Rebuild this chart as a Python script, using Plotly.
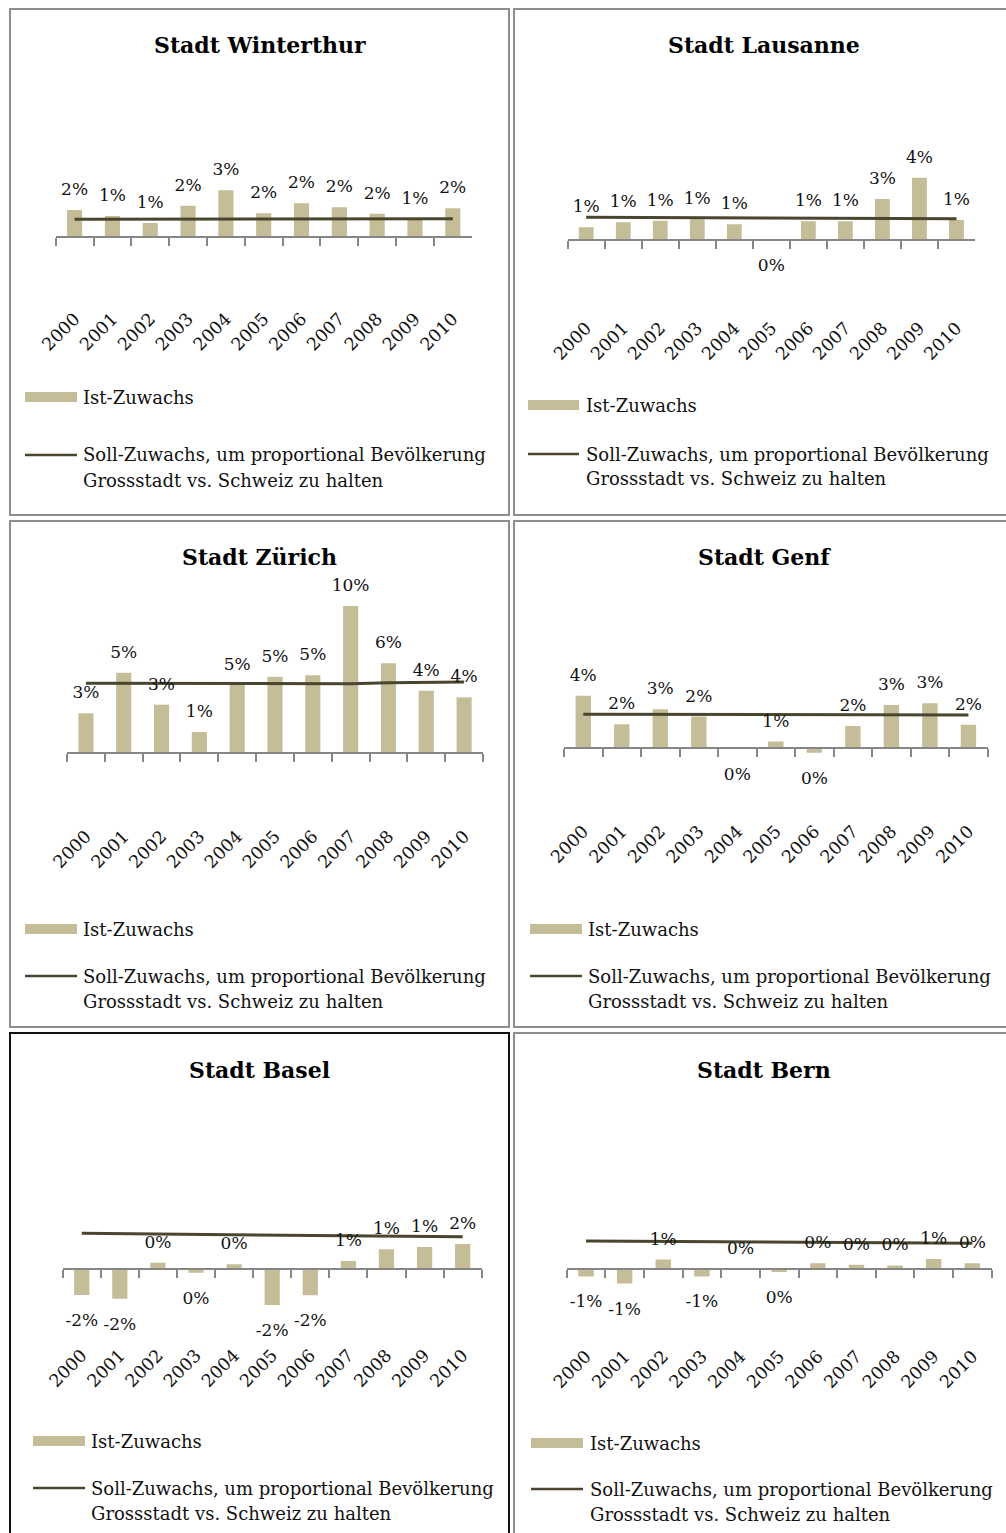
import plotly.graph_objects as go

# ---------------- data ----------------
years = ["2000", "2001", "2002", "2003", "2004", "2005", "2006", "2007", "2008", "2009", "2010"]

series_bar_name = "Ist-Zuwachs"
series_line_name_1 = "Soll-Zuwachs, um proportional Bevölkerung"
series_line_name_2 = "Grossstadt vs. Schweiz zu halten"

titles = ["Stadt Winterthur", "Stadt Lausanne", "Stadt Zürich", "Stadt Genf", "Stadt Basel", "Stadt Bern"]

# values in percent
winterthur_ist = [1.78, 1.38, 0.91, 2.07, 3.09, 1.56, 2.23, 1.96, 1.53, 1.20, 1.89]
winterthur_soll = [1.16, 1.16, 1.17, 1.17, 1.17, 1.18, 1.18, 1.18, 1.19, 1.19, 1.20]

lausanne_ist = [0.85, 1.18, 1.29, 1.38, 1.05, -0.02, 1.25, 1.25, 2.73, 4.15, 1.33]
lausanne_soll = [1.52, 1.51, 1.50, 1.49, 1.48, 1.47, 1.46, 1.45, 1.44, 1.43, 1.42]

zurich_ist = [2.67, 5.37, 3.24, 1.42, 4.55, 5.11, 5.20, 9.82, 6.00, 4.17, 3.73]
zurich_soll = [4.67, 4.66, 4.65, 4.64, 4.63, 4.62, 4.62, 4.64, 4.70, 4.73, 4.75]

genf_ist = [4.05, 1.85, 3.00, 2.45, -0.03, 0.52, -0.34, 1.72, 3.33, 3.46, 1.82]
genf_soll = [2.62, 2.62, 2.61, 2.61, 2.60, 2.60, 2.59, 2.59, 2.58, 2.58, 2.57]

basel_ist = [-1.66, -1.90, 0.43, -0.22, 0.32, -2.30, -1.68, 0.54, 1.29, 1.44, 1.63]
basel_soll = [2.32, 2.30, 2.28, 2.26, 2.24, 2.22, 2.20, 2.18, 2.15, 2.13, 2.10]

bern_ist = [-0.55, -1.10, 0.75, -0.55, 0.03, -0.20, 0.47, 0.35, 0.30, 0.80, 0.47]
bern_soll = [2.18, 2.16, 2.14, 2.12, 2.10, 2.09, 2.07, 2.05, 2.03, 2.02, 2.00]

ist_series = [winterthur_ist, lausanne_ist, zurich_ist, genf_ist, basel_ist, bern_ist]
soll_series = [winterthur_soll, lausanne_soll, zurich_soll, genf_soll, basel_soll, bern_soll]

# ---------------- layout (pixels) ----------------
W, H = 1006, 1533
FONT = "DejaVu Serif"
BAR_COLOR = "#C4BD97"
LINE_COLOR = "#4A452E"
AXIS_COLOR = "#868686"
TXT = "#111111"
LABEL_SIZE = 17
# invisible marker sizes that push the value labels away from the bar ends
POS_PAD, NEG_PAD = 15.5, 27.5

panels = [
    dict(box=(10, 9, 509, 515), title=(260, 45), xL=55.7, xR=471.7, z=236.7, b=309, s=15.0,
         leg_x=(25, 77), txt_x=80.5, bar_y=397, line_y=455, border="#8E8E8E"),
    dict(box=(514, 9, 1010, 515), title=(764, 45), xL=567.7, xR=975.0, z=240.0, b=318, s=15.0,
         leg_x=(528, 579), txt_x=583.5, bar_y=405, line_y=454, border="#8E8E8E"),
    dict(box=(10, 521, 509, 1027), title=(259, 557), xL=67.0, xR=483.0, z=753.3, b=826, s=15.0,
         leg_x=(25, 77), txt_x=80.5, bar_y=929, line_y=976, border="#8E8E8E"),
    dict(box=(514, 521, 1010, 1027), title=(764, 557), xL=564.0, xR=987.7, z=748.3, b=821, s=13.0,
         leg_x=(530, 582), txt_x=585.5, bar_y=929, line_y=976, border="#8E8E8E"),
    dict(box=(10, 1033, 509, 1545), title=(259, 1070), xL=62.7, xR=481.7, z=1269.3, b=1345, s=15.5,
         leg_x=(33, 85), txt_x=88.5, bar_y=1441, line_y=1488, border="#111111"),
    dict(box=(514, 1033, 1010, 1545), title=(764, 1070), xL=566.7, xR=991.7, z=1269.3, b=1346, s=13.0,
         leg_x=(531, 583), txt_x=587.5, bar_y=1443, line_y=1489, border="#8E8E8E"),
]


def fx(x):
    return x / W


def fy(y):
    return 1 - y / H


def pct_label(v):
    return f"{int(round(v))}%"


fig = go.Figure()
layout = dict(
    template="none",
    width=W, height=H,
    margin=dict(l=0, r=0, t=0, b=0, pad=0, autoexpand=False),
    paper_bgcolor="white", plot_bgcolor="rgba(0,0,0,0)",
    showlegend=False, bargap=0.6,
    font=dict(family=FONT, color=TXT),
)
annotations = []
shapes = []
n = len(years)

for i, (p, ist, soll, title) in enumerate(zip(panels, ist_series, soll_series, titles)):
    k = i + 1
    xa = "x" if k == 1 else f"x{k}"
    ya = "y" if k == 1 else f"y{k}"
    top = p["box"][1] + 80
    ymin = -(p["b"] - p["z"]) / p["s"]
    ymax = (p["z"] - top) / p["s"]

    fig.add_trace(go.Bar(x=years, y=ist, xaxis=xa, yaxis=ya, name=series_bar_name,
                         marker=dict(color=BAR_COLOR, line=dict(width=0))))
    fig.add_trace(go.Scatter(x=years, y=soll, xaxis=xa, yaxis=ya, mode="lines",
                             name=series_line_name_1 + " " + series_line_name_2,
                             line=dict(color=LINE_COLOR, width=3)))
    # value labels (outside end of each bar)
    fig.add_trace(go.Scatter(
        x=years, y=ist, xaxis=xa, yaxis=ya, mode="markers+text",
        text=[pct_label(v) for v in ist],
        textposition=["top center" if v >= 0 else "bottom center" for v in ist],
        marker=dict(size=[POS_PAD if v >= 0 else NEG_PAD for v in ist],
                    color="rgba(0,0,0,0)", line=dict(width=0)),
        textfont=dict(family=FONT, size=LABEL_SIZE, color=TXT),
        cliponaxis=False, hoverinfo="skip", showlegend=False,
    ))

    # category axis sitting on the zero value, labels pushed to the bottom of the plot area
    layout[f"xaxis{'' if k == 1 else k}"] = dict(
        domain=[fx(p["xL"]), fx(p["xR"])], anchor="free", position=fy(p["z"]),
        type="category", categoryorder="array", categoryarray=years, range=[-0.5, n - 0.5],
        showline=True, linecolor=AXIS_COLOR, linewidth=2,
        ticks="outside", tickson="boundaries", ticklen=8, tickwidth=1.5, tickcolor=AXIS_COLOR,
        showgrid=False, zeroline=False, automargin=False,
        tickangle=-45, ticklabelstandoff=int(round(max(0, p["b"] - p["z"] - 8))),
        tickfont=dict(family=FONT, size=17.5, color=TXT),
        fixedrange=True,
    )
    layout[f"yaxis{'' if k == 1 else k}"] = dict(
        domain=[fy(p["b"]), fy(top)], anchor=xa, range=[ymin, ymax],
        visible=False, showgrid=False, zeroline=False, fixedrange=True, automargin=False,
    )

    # title
    annotations.append(dict(
        x=fx(p["title"][0]), y=fy(p["title"][1]), xref="paper", yref="paper",
        text=f"<b>{title}</b>", showarrow=False, xanchor="center", yanchor="middle",
        font=dict(family=FONT, size=22, color="#000000"),
    ))

    # panel border
    x0, y0, x1, y1 = p["box"]
    shapes.append(dict(type="rect", xref="paper", yref="paper",
                       x0=fx(x0), x1=fx(x1), y0=fy(y1), y1=fy(y0),
                       line=dict(color=p["border"], width=2), fillcolor="rgba(0,0,0,0)", layer="below"))

    # legend
    lx0, lx1 = p["leg_x"]
    shapes.append(dict(type="rect", xref="paper", yref="paper",
                       x0=fx(lx0), x1=fx(lx1), y0=fy(p["bar_y"] + 5), y1=fy(p["bar_y"] - 5),
                       line=dict(width=0), fillcolor=BAR_COLOR))
    shapes.append(dict(type="line", xref="paper", yref="paper",
                       x0=fx(lx0), x1=fx(lx1), y0=fy(p["line_y"]), y1=fy(p["line_y"]),
                       line=dict(color=LINE_COLOR, width=2.5)))
    for text, yy in [(series_bar_name, p["bar_y"]),
                     (series_line_name_1, p["line_y"]),
                     (series_line_name_2, p["line_y"] + 25)]:
        annotations.append(dict(
            x=fx(p["txt_x"]), y=fy(yy), xref="paper", yref="paper", text=text,
            showarrow=False, xanchor="left", yanchor="middle",
            font=dict(family=FONT, size=18, color=TXT),
        ))

layout["annotations"] = annotations
layout["shapes"] = shapes
fig.update_layout(**layout)
fig.write_html("out.html")
